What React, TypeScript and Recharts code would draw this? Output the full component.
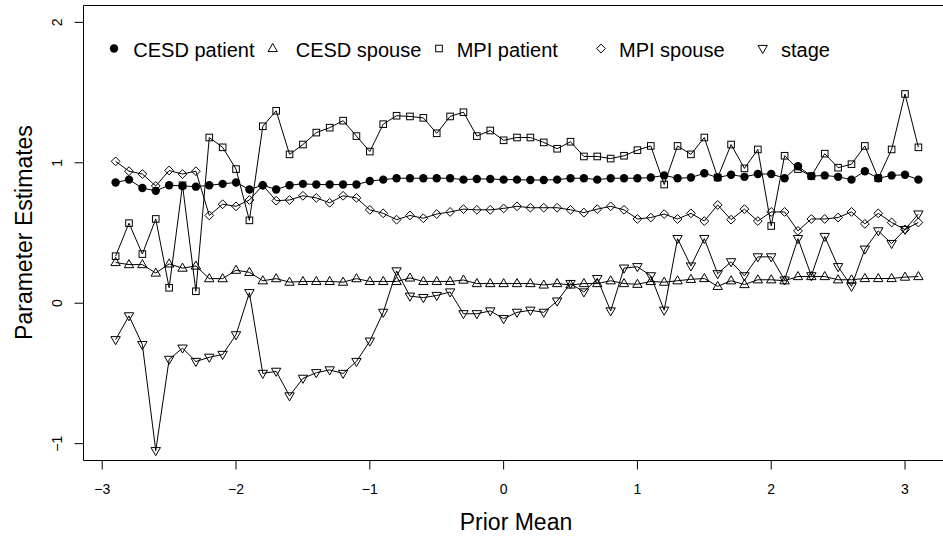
import React from 'react';
import { LineChart, Line, XAxis, YAxis, ReferenceArea } from 'recharts';

// prior mean grid (x)
const priorMean = [
  -2.9, -2.8, -2.7, -2.6, -2.5, -2.4, -2.3, -2.2, -2.1, -2.0,
  -1.9, -1.8, -1.7, -1.6, -1.5, -1.4, -1.3, -1.2, -1.1, -1.0,
  -0.9, -0.8, -0.7, -0.6, -0.5, -0.4, -0.3, -0.2, -0.1, 0.0,
  0.1, 0.2, 0.3, 0.4, 0.5, 0.6, 0.7, 0.8, 0.9, 1.0,
  1.1, 1.2, 1.3, 1.4, 1.5, 1.6, 1.7, 1.8, 1.9, 2.0,
  2.1, 2.2, 2.3, 2.4, 2.5, 2.6, 2.7, 2.8, 2.9, 3.0, 3.1,
];

const cesdPatient = [
  0.86, 0.88, 0.82, 0.8, 0.84, 0.835, 0.83, 0.84, 0.85, 0.86,
  0.81, 0.84, 0.81, 0.84, 0.85, 0.845, 0.845, 0.845, 0.845, 0.87,
  0.88, 0.89, 0.89, 0.89, 0.89, 0.89, 0.88, 0.885, 0.885, 0.88,
  0.88, 0.877, 0.877, 0.88, 0.89, 0.89, 0.88, 0.89, 0.89, 0.89,
  0.895, 0.91, 0.89, 0.895, 0.925, 0.895, 0.915, 0.9, 0.92, 0.92,
  0.89, 0.975, 0.905, 0.91, 0.9, 0.88, 0.94, 0.89, 0.91, 0.915, 0.88,
];

const cesdSpouse = [
  0.29, 0.275, 0.275, 0.215, 0.28, 0.25, 0.265, 0.175, 0.175, 0.235,
  0.22, 0.16, 0.175, 0.15, 0.155, 0.155, 0.155, 0.15, 0.175, 0.155,
  0.155, 0.155, 0.18, 0.155, 0.155, 0.155, 0.165, 0.14, 0.14, 0.14,
  0.14, 0.14, 0.13, 0.14, 0.13, 0.14, 0.14, 0.16, 0.14, 0.135,
  0.155, 0.15, 0.16, 0.17, 0.176, 0.12, 0.16, 0.133, 0.167, 0.167,
  0.16, 0.19, 0.19, 0.19, 0.167, 0.167, 0.176, 0.176, 0.176, 0.186, 0.19,
];

const mpiPatient = [
  0.335, 0.57, 0.35, 0.6, 0.11, 0.84, 0.085, 1.18, 1.11, 0.955,
  0.59, 1.26, 1.37, 1.06, 1.13, 1.215, 1.25, 1.3, 1.19, 1.08,
  1.275, 1.335, 1.33, 1.32, 1.21, 1.33, 1.36, 1.19, 1.23, 1.16,
  1.18, 1.18, 1.145, 1.1, 1.15, 1.045, 1.045, 1.03, 1.05, 1.09,
  1.12, 0.845, 1.12, 1.06, 1.18, 0.895, 1.13, 0.96, 1.095, 0.55,
  1.05, 0.955, 0.905, 1.065, 0.965, 0.99, 1.12, 0.89, 1.095, 1.49, 1.11,
];

const mpiSpouse = [
  1.01, 0.94, 0.92, 0.835, 0.945, 0.92, 0.94, 0.625, 0.705, 0.69,
  0.735, 0.84, 0.73, 0.735, 0.765, 0.75, 0.715, 0.765, 0.75, 0.665,
  0.64, 0.595, 0.625, 0.605, 0.635, 0.65, 0.67, 0.665, 0.665, 0.675,
  0.69, 0.68, 0.68, 0.68, 0.665, 0.645, 0.67, 0.69, 0.665, 0.6,
  0.61, 0.635, 0.6, 0.64, 0.585, 0.7, 0.595, 0.67, 0.585, 0.65,
  0.65, 0.515, 0.6, 0.6, 0.61, 0.65, 0.565, 0.64, 0.575, 0.525, 0.575,
];

const stage = [
  -0.26, -0.09, -0.295, -1.05, -0.4, -0.32, -0.415, -0.385, -0.365, -0.225,
  0.075, -0.5, -0.485, -0.66, -0.535, -0.495, -0.475, -0.5, -0.415, -0.27,
  -0.065, 0.23, 0.05, 0.04, 0.055, 0.08, -0.075, -0.075, -0.055, -0.11,
  -0.065, -0.05, -0.065, 0.015, 0.14, 0.08, 0.175, -0.055, 0.25, 0.26,
  0.195, -0.05, 0.46, 0.265, 0.46, 0.21, 0.295, 0.195, 0.33, 0.33,
  0.165, 0.46, 0.195, 0.475, 0.26, 0.12, 0.385, 0.515, 0.425, 0.525, 0.635,
];

const xTicks = [-3, -2, -1, 0, 1, 2, 3];
const yTicks = [-1, 0, 1, 2];

const data = priorMean.map((x, i) => ({
  x,
  cesdPatient: cesdPatient[i],
  cesdSpouse: cesdSpouse[i],
  mpiPatient: mpiPatient[i],
  mpiSpouse: mpiSpouse[i],
  stage: stage[i],
}));

const FONT = "'Liberation Sans', Arial, Helvetica, sans-serif";
const fmt = (v: number) => String(v).replace('-', '\u2212');

type MarkProps = { cx: number; cy: number };

const FilledCircle = ({ cx, cy }: MarkProps) => <circle cx={cx} cy={cy} r={4.2} fill="#000" />;
const TriangleUp = ({ cx, cy }: MarkProps) => (
  <path d={`M${cx},${cy - 5}L${cx + 4.7},${cy + 3.1}L${cx - 4.7},${cy + 3.1}Z`} fill="none" stroke="#000" />
);
const OpenSquare = ({ cx, cy }: MarkProps) => (
  <rect x={cx - 3.3} y={cy - 3.3} width={6.6} height={6.6} fill="none" stroke="#000" />
);
const OpenDiamond = ({ cx, cy }: MarkProps) => (
  <path d={`M${cx},${cy - 4.4}L${cx + 4.4},${cy}L${cx},${cy + 4.4}L${cx - 4.4},${cy}Z`} fill="none" stroke="#000" />
);
const TriangleDown = ({ cx, cy }: MarkProps) => (
  <path d={`M${cx},${cy + 5}L${cx + 4.7},${cy - 3.1}L${cx - 4.7},${cy - 3.1}Z`} fill="none" stroke="#000" />
);

const series = [
  { key: 'cesdPatient', name: 'CESD patient', Mark: FilledCircle },
  { key: 'cesdSpouse', name: 'CESD spouse', Mark: TriangleUp },
  { key: 'mpiPatient', name: 'MPI patient', Mark: OpenSquare },
  { key: 'mpiSpouse', name: 'MPI spouse', Mark: OpenDiamond },
  { key: 'stage', name: 'stage', Mark: TriangleDown },
];

// legend symbol / text x positions (layout only)
const legendSymbolX = [114, 272.7, 439, 601, 762.7];
const legendTextX = [133.3, 295.7, 456.7, 619, 781];

const XTick = ({ x, payload }: any) => (
  <text x={x} y={494} textAnchor="middle" fontSize={14} fontFamily={FONT} fill="#000">
    {fmt(payload.value)}
  </text>
);

const YTick = ({ y, payload }: any) => (
  <text
    transform={`translate(61.5,${y}) rotate(-90)`}
    textAnchor="middle"
    fontSize={14}
    fontFamily={FONT}
    fill="#000"
  >
    {fmt(payload.value)}
  </text>
);

const App = () => {
  return (
    <div
      style={{
        position: 'absolute',
        left: 0,
        top: 0,
        width: 943,
        height: 537,
        overflow: 'hidden',
        background: '#fff',
      }}
    >
      <LineChart
        width={952}
        height={537}
        data={data}
        margin={{ top: 5.5, right: 1.5, left: 0.5, bottom: 0.5 }}
      >
        <XAxis
          dataKey="x"
          type="number"
          domain={[-3.14, 3.34]}
          ticks={xTicks}
          allowDataOverflow
          axisLine={false}
          tickLine={{ stroke: '#000' }}
          tickSize={9}
          height={76}
          tick={<XTick />}
          label={{
            content: () => (
              <text x={516} y={530} textAnchor="middle" fontSize={23} fontFamily={FONT} fill="#000">
                Prior Mean
              </text>
            ),
          }}
        />
        <YAxis
          type="number"
          domain={[-1.12, 2.12]}
          ticks={yTicks}
          allowDataOverflow
          axisLine={false}
          tickLine={{ stroke: '#000' }}
          tickSize={9}
          width={83}
          tick={<YTick />}
          label={{
            content: () => (
              <text
                transform="translate(31.5,232.5) rotate(-90)"
                textAnchor="middle"
                fontSize={23}
                fontFamily={FONT}
                fill="#000"
              >
                Parameter Estimates
              </text>
            ),
          }}
        />
        {/* plot frame */}
        <ReferenceArea
          x1={-3.14}
          x2={3.34}
          y1={-1.12}
          y2={2.12}
          fill="none"
          stroke="#000"
          strokeWidth={1}
          ifOverflow="visible"
        />
        {series.map(({ key, name, Mark }) => (
          <Line
            key={key}
            dataKey={key}
            name={name}
            type="linear"
            stroke="#000"
            strokeWidth={1}
            isAnimationActive={false}
            activeDot={false}
            dot={(p: any) => <Mark key={`${key}-${p.index}`} cx={p.cx} cy={p.cy} />}
          />
        ))}
      </LineChart>
      {/* legend, drawn inside the plot box like R's legend(bty = "n") */}
      <svg
        width={943}
        height={80}
        style={{ position: 'absolute', left: 0, top: 0, pointerEvents: 'none' }}
      >
        {series.map(({ key, name, Mark }, i) => (
          <g key={key}>
            <Mark cx={legendSymbolX[i]} cy={48.5} />
            <text x={legendTextX[i]} y={56.5} fontSize={20} fontFamily={FONT} fill="#000">
              {name}
            </text>
          </g>
        ))}
      </svg>
    </div>
  );
};

export default App;
